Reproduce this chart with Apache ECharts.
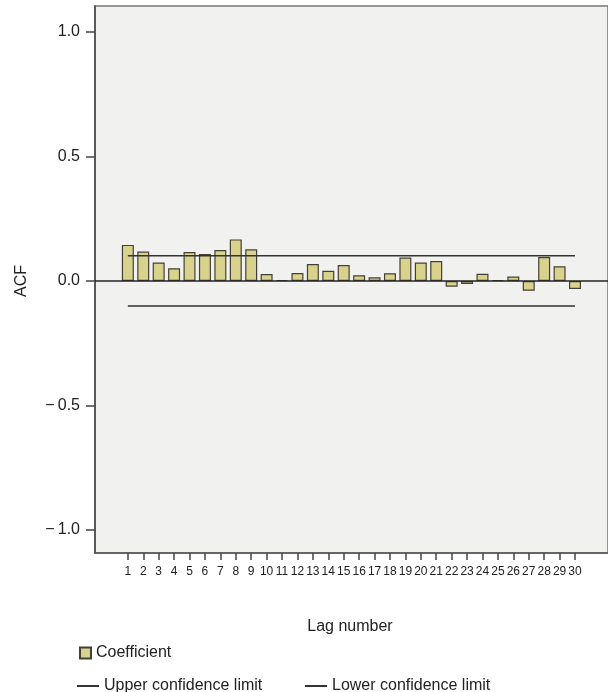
<!DOCTYPE html>
<html><head><meta charset="utf-8">
<script src="https://cdn.jsdelivr.net/npm/echarts@6/dist/echarts.min.js"></script>
<style>html,body{margin:0;padding:0;background:#fff}#c{width:608px;height:692px}</style>
</head><body><div id="c"></div>
<script>
const lags = [1,2,3,4,5,6,7,8,9,10,11,12,13,14,15,16,17,18,19,20,21,22,23,24,25,26,27,28,29,30];
const coefficient = [0.145,0.118,0.074,0.051,0.116,0.108,0.124,0.167,0.127,0.028,0.004,0.032,0.068,0.041,0.064,0.023,0.015,0.031,0.094,0.074,0.080,-0.023,-0.012,0.029,0.004,0.018,-0.039,0.096,0.059,-0.032];
const upperLimit = [0.101,0.101,0.101,0.101,0.101,0.101,0.101,0.101,0.101,0.101,0.101,0.101,0.101,0.101,0.101,0.101,0.101,0.101,0.101,0.101,0.101,0.101,0.101,0.101,0.101,0.101,0.101,0.101,0.101,0.101];
const lowerLimit = [-0.100,-0.100,-0.100,-0.100,-0.100,-0.100,-0.100,-0.100,-0.100,-0.100,-0.100,-0.100,-0.100,-0.100,-0.100,-0.100,-0.100,-0.100,-0.100,-0.100,-0.100,-0.100,-0.100,-0.100,-0.100,-0.100,-0.100,-0.100,-0.100,-0.100];
const yTicks = [-1.0,-0.5,0.0,0.5,1.0];

const FONT = "'Liberation Sans', Arial, sans-serif";
const chart = echarts.init(document.getElementById('c'), null, {renderer:'canvas'});
const fmtY = v => (v < 0 ? '\u2212\u2009' : '') + Math.abs(v).toFixed(1);
chart.setOption({
  animation:false,
  backgroundColor:'#ffffff',
  grid:{left:95, right:-2, top:6, bottom:139, show:true, backgroundColor:'#f1f1ef', borderColor:'#777', borderWidth:1.5},
  xAxis:{type:'value', min:-1.13, max:32.14, position:'bottom',
    axisLine:{show:true, onZero:false, lineStyle:{color:'#555', width:1.5}},
    axisTick:{show:true, customValues:lags, length:7, lineStyle:{color:'#444', width:1.5}},
    axisLabel:{customValues:lags, margin:13, fontSize:12, color:'#222', fontFamily:FONT},
    splitLine:{show:false}},
  yAxis:{type:'value', min:-1.092, max:1.104, position:'left',
    axisLine:{show:true, onZero:false, lineStyle:{color:'#444', width:1.5}},
    axisTick:{show:true, customValues:yTicks, length:9, lineStyle:{color:'#444', width:1.5}},
    axisLabel:{customValues:yTicks, formatter:fmtY, margin:15, fontSize:16, color:'#222', fontFamily:FONT},
    splitLine:{show:false}},
  legend:[
    {data:[{name:'Coefficient', icon:'rect'}], left:74, top:640, itemWidth:11, itemHeight:11, textStyle:{fontSize:16, color:'#222', fontFamily:FONT}},
    {data:[{name:'Upper confidence limit', icon:'rect'}], left:72, top:673, itemWidth:22, itemHeight:2, textStyle:{fontSize:16, color:'#222', fontFamily:FONT}},
    {data:[{name:'Lower confidence limit', icon:'rect'}], left:300, top:673, itemWidth:22, itemHeight:2, textStyle:{fontSize:16, color:'#222', fontFamily:FONT}}
  ],
  graphic:[
    {type:'text', x:350, y:627, style:{text:'Lag number', fontSize:16, fill:'#222', fontFamily:FONT, align:'center', verticalAlign:'middle'}},
    {type:'text', x:22, y:281, rotation:Math.PI/2, style:{text:'ACF', fontSize:16, fill:'#222', fontFamily:FONT, align:'center', verticalAlign:'middle'}}
  ],
  series:[
    {name:'Coefficient', type:'bar', barWidth:12, data:lags.map((l,i)=>[l,coefficient[i]]),
      itemStyle:{color:'#d8d28c', borderColor:'#444038', borderWidth:1.2},
      markLine:{silent:true, symbol:'none', label:{show:false}, lineStyle:{color:'#222', width:1.5, type:'solid'}, data:[{yAxis:0}]}},
    {name:'Upper confidence limit', type:'line', symbol:'none', data:lags.map((l,i)=>[l,upperLimit[i]]),
      lineStyle:{color:'#333', width:1.5}, itemStyle:{color:'#333'}},
    {name:'Lower confidence limit', type:'line', symbol:'none', data:lags.map((l,i)=>[l,lowerLimit[i]]),
      lineStyle:{color:'#333', width:1.5}, itemStyle:{color:'#333'}}
  ]
});
</script></body></html>
